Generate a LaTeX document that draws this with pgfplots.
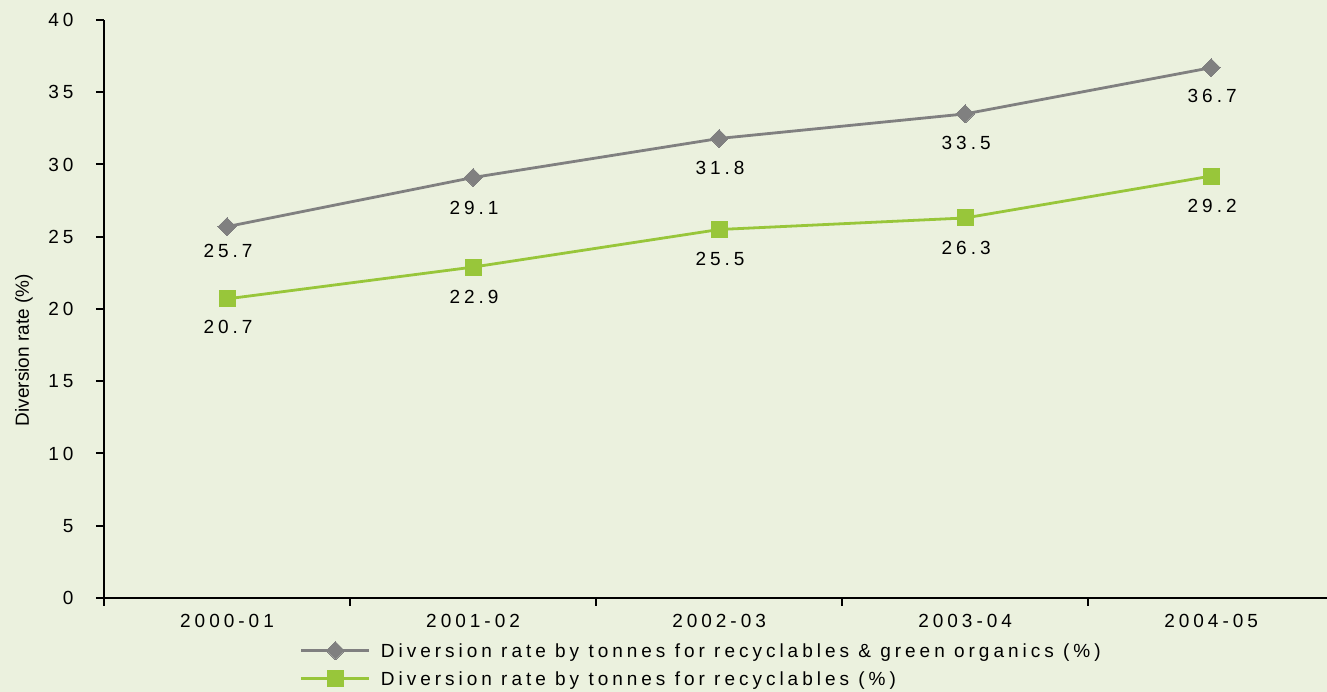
\documentclass[border=0pt]{standalone}
\usepackage{fontspec}
\setmainfont{Liberation Sans}[LetterSpace=21]
\newfontfamily\labelfont{Liberation Sans}
\usepackage{pgfplots}
\pgfplotsset{compat=1.18}
\definecolor{bgc}{HTML}{EBF1DE}
\definecolor{grayl}{HTML}{808080}
\definecolor{greenl}{HTML}{98C63A}
\begin{document}
\begin{tikzpicture}[x=1pt,y=1pt]
\fill[bgc] (0,0) rectangle (1327,692);
\useasboundingbox (0,0) rectangle (1327,692);
\begin{axis}[
  at={(104pt,94pt)}, anchor=south west,
  scale only axis, width=1224pt, height=578pt,
  xmin=-0.5, xmax=4.475, ymin=0, ymax=40,
  axis lines=left,
  axis line style={-, line width=2.2pt, black},
  tick style={line width=2pt, black},
  tick align=outside,
  major tick length=8pt,
  ytick={0,5,...,40},
  xtick={-0.5,0.5,1.5,2.5,3.5},
  xticklabels={},
  extra x ticks={0,1,2,3,4},
  extra x tick labels={2000-01,2001-02,2002-03,2003-04,2004-05},
  extra x tick style={major tick length=0pt, tick style={draw=none}},
  /pgf/number format/assume math mode=true,
  ticklabel style={font=\fontsize{19}{22}\selectfont},
  xticklabel style={yshift=-13pt},
  yticklabel style={xshift=-19pt},
  ylabel={\labelfont Diversion rate (\%)},
  ylabel style={font=\fontsize{19}{22}\selectfont, at={(axis description cs:-0.0654,0.429)}, anchor=center},
  nodes near coords,
  nodes near coords style={font=\fontsize{19}{22}\selectfont, black, /pgf/number format/fixed, /pgf/number format/fixed zerofill, /pgf/number format/precision=1},
  visualization depends on={\thisrow{off} \as \myoff},
  every node near coord/.append style={anchor=center, yshift=\myoff pt, xshift=1pt},
  legend style={at={(axis description cs:0.160,-0.075)}, anchor=north west, draw=none, fill=none,
     font=\fontsize{19}{22}\selectfont, row sep=11pt, inner sep=0pt,
     nodes={inner sep=0pt, text depth=0pt}},
  legend cell align=left,
  legend image code/.code={\draw[mark repeat=2, mark phase=2] plot coordinates {(0pt,0pt) (34pt,0pt) (68pt,0pt)};},
  clip=false,
]
\addplot[grayl, line width=2.8pt, mark=square*, mark size=6.4pt, mark options={solid, rotate=45, fill=grayl, draw=grayl, line width=0pt}]
  table {
x y off
0 25.7 -24
1 29.1 -30
2 31.8 -29
3 33.5 -29
4 36.7 -28
};
\addlegendentry{\hspace{10pt}Diversion rate by tonnes for recyclables \& green organics (\%)}
\addplot[greenl, line width=2.8pt, mark=square*, mark size=8pt, mark options={solid, fill=greenl, draw=greenl, line width=0pt}]
  table {
x y off
0 20.7 -28
1 22.9 -30
2 25.5 -29
3 26.3 -30
4 29.2 -30
};
\addlegendentry{\hspace{10pt}Diversion rate by tonnes for recyclables (\%)}
\end{axis}
\end{tikzpicture}
\end{document}
